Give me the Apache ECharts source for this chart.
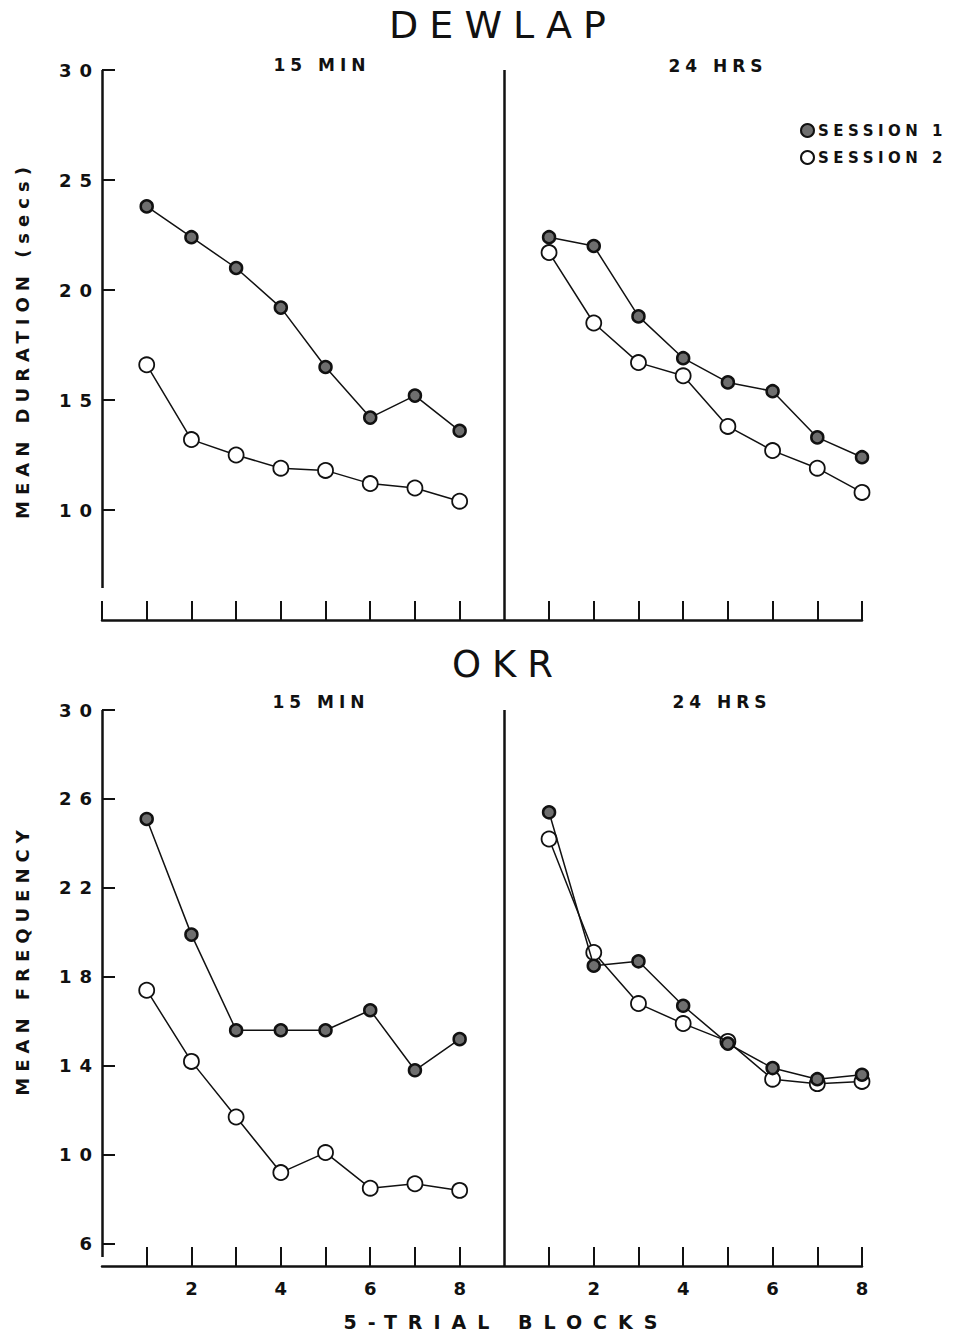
<!DOCTYPE html>
<html>
<head>
<meta charset="utf-8">
<script src="https://cdn.jsdelivr.net/npm/echarts@6/dist/echarts.min.js"></script>
<style>
  html, body { margin: 0; padding: 0; background: #fff; }
  #chart { width: 953px; height: 1337px; }
</style>
</head>
<body>
<div id="chart"></div>
<script>
// 5-trial blocks shown in each panel
const blocks = [1, 2, 3, 4, 5, 6, 7, 8];
const blockLabels = [2, 4, 6, 8];

// Dewlap: mean duration (secs)
const dewlap15Session1 = [23.8, 22.4, 21.0, 19.2, 16.5, 14.2, 15.2, 13.6];
const dewlap15Session2 = [16.6, 13.2, 12.5, 11.9, 11.8, 11.2, 11.0, 10.4];
const dewlap24Session1 = [22.4, 22.0, 18.8, 16.9, 15.8, 15.4, 13.3, 12.4];
const dewlap24Session2 = [21.7, 18.5, 16.7, 16.1, 13.8, 12.7, 11.9, 10.8];

// OKR: mean frequency
const okr15Session1 = [25.1, 19.9, 15.6, 15.6, 15.6, 16.5, 13.8, 15.2];
const okr15Session2 = [17.4, 14.2, 11.7, 9.2, 10.1, 8.5, 8.7, 8.4];
const okr24Session1 = [25.4, 18.5, 18.7, 16.7, 15.0, 13.9, 13.4, 13.6];
const okr24Session2 = [24.2, 19.1, 16.8, 15.9, 15.1, 13.4, 13.2, 13.3];

// y-axis tick labels
const dewlapTicks = [10, 15, 20, 25, 30];
const okrTicks = [6, 10, 14, 18, 22, 26, 30];

// the 24 HRS panel continues the same x scale after the divider
const RIGHT_OFFSET = 9;
const X_MAX = 17;
const INK = '#111';
const FONT = '"DejaVu Sans", sans-serif';

const chart = echarts.init(document.getElementById('chart'), null, { renderer: 'svg' });

function pairs(values, offset) {
  return values.map((v, i) => [blocks[i] + offset, v]);
}

const session1Style = {
  symbol: 'circle',
  symbolSize: 12,
  itemStyle: { color: '#6e6e6e', borderColor: INK, borderWidth: 2.5 },
  lineStyle: { color: INK, width: 1.5 }
};
const session2Style = {
  symbol: 'circle',
  symbolSize: 15,
  itemStyle: { color: '#fff', borderColor: INK, borderWidth: 1.8 },
  lineStyle: { color: INK, width: 1.5 }
};

function line(name, values, offset, gridIndex, style) {
  return Object.assign({
    name: name,
    type: 'line',
    xAxisIndex: gridIndex,
    yAxisIndex: gridIndex,
    data: pairs(values, offset),
    silent: true,
    z: name === 'SESSION 2' ? 3 : 4
  }, JSON.parse(JSON.stringify(style)));
}

// frame lines: y axis (stopping short of the x axis) and panel divider
function frame(gridIndex, yBottom, capped) {
  const solid = { color: INK, width: 2.5, type: 'solid' };
  const lines = [
    [{ coord: [0, yBottom] }, { coord: [0, 30] }],
    [{ coord: [RIGHT_OFFSET, 5] }, { coord: [RIGHT_OFFSET, 30] }]
  ];
  if (capped) lines.push([{ coord: [-0.14, yBottom] }, { coord: [0.14, yBottom] }]);
  return {
    type: 'line',
    xAxisIndex: gridIndex,
    yAxisIndex: gridIndex,
    data: [],
    silent: true,
    markLine: {
      silent: true,
      symbol: ['none', 'none'],
      label: { show: false },
      lineStyle: solid,
      data: lines
    }
  };
}

function xAxis(gridIndex, showLabels) {
  const ticks = blocks.concat(blocks.map(b => b + RIGHT_OFFSET));
  if (!showLabels) ticks.unshift(0);
  return {
    type: 'value',
    gridIndex: gridIndex,
    min: 0,
    max: X_MAX,
    axisLine: { show: true, onZero: false, lineStyle: { color: INK, width: 2.5 } },
    axisTick: { show: true, inside: true, length: 19, customValues: ticks, lineStyle: { color: INK, width: 2 } },
    axisLabel: {
      show: showLabels,
      customValues: blockLabels.concat(blockLabels.map(b => b + RIGHT_OFFSET)),
      formatter: v => String(v > RIGHT_OFFSET ? v - RIGHT_OFFSET : v),
      color: INK,
      fontFamily: FONT,
      fontWeight: 'bold',
      fontSize: 18,
      margin: 13
    },
    splitLine: { show: false }
  };
}

function yAxis(gridIndex, ticks) {
  return {
    type: 'value',
    gridIndex: gridIndex,
    min: 5,
    max: 30,
    axisLine: { show: false },
    axisTick: { show: true, inside: true, length: 13, customValues: ticks, lineStyle: { color: INK, width: 2 } },
    axisLabel: {
      customValues: ticks,
      color: INK,
      fontFamily: FONT,
      fontWeight: 'bold',
      fontSize: 18,
      margin: 2
    },
    splitLine: { show: false }
  };
}

function label(text, x, y, size, weight, rotation) {
  return {
    type: 'text',
    x: x,
    y: y,
    rotation: rotation || 0,
    silent: true,
    style: {
      text: text,
      fill: INK,
      font: weight + ' ' + size + 'px ' + FONT,
      textAlign: 'center',
      textVerticalAlign: 'middle',
      align: 'center',
      verticalAlign: 'middle'
    }
  };
}

chart.setOption({
  animation: false,
  backgroundColor: '#fff',
  grid: [
    { left: 102, right: 91, top: 70, height: 550 },
    { left: 102, right: 91, top: 710, height: 556 }
  ],
  xAxis: [xAxis(0, false), xAxis(1, true)],
  yAxis: [yAxis(0, dewlapTicks), yAxis(1, okrTicks)],
  legend: {
    data: [{ name: 'SESSION 1', icon: 'circle' }, { name: 'SESSION 2', icon: 'circle' }],
    orient: 'vertical',
    left: 795,
    top: 118,
    itemWidth: 13,
    itemHeight: 13,
    itemGap: 12,
    selectedMode: false,
    textStyle: { color: INK, fontFamily: FONT, fontWeight: 'bold', fontSize: 15, padding: [0, 0, 0, -1] }
  },
  graphic: [
    label('DEWLAP', 503, 25, 38, 'normal'),
    label('OKR', 508, 664, 37, 'normal'),
    label('15 MIN', 322, 65, 17, 'bold'),
    label('24 HRS', 718, 66, 17, 'bold'),
    label('15 MIN', 321, 702, 17, 'bold'),
    label('24 HRS', 722, 702, 17, 'bold'),
    label('MEAN DURATION (secs)', 22, 340, 18, 'bold', Math.PI / 2),
    label('MEAN FREQUENCY', 22, 960, 18, 'bold', Math.PI / 2),
    label('5-TRIAL BLOCKS', 506, 1322, 19, 'bold')
  ],
  series: [
    frame(0, 6.45, true),
    frame(1, 5.4, false),
    line('SESSION 1', dewlap15Session1, 0, 0, session1Style),
    line('SESSION 2', dewlap15Session2, 0, 0, session2Style),
    line('SESSION 1', dewlap24Session1, RIGHT_OFFSET, 0, session1Style),
    line('SESSION 2', dewlap24Session2, RIGHT_OFFSET, 0, session2Style),
    line('SESSION 1', okr15Session1, 0, 1, session1Style),
    line('SESSION 2', okr15Session2, 0, 1, session2Style),
    line('SESSION 1', okr24Session1, RIGHT_OFFSET, 1, session1Style),
    line('SESSION 2', okr24Session2, RIGHT_OFFSET, 1, session2Style)
  ]
});

// typewriter-style letter spacing for the lettering
const spacing = {
  'DEWLAP': 11, 'OKR': 11,
  '15 MIN': 5, '24 HRS': 5,
  'SESSION 1': 4.5, 'SESSION 2': 4.5,
  'MEAN DURATION (secs)': 6, 'MEAN FREQUENCY': 6,
  '5-TRIAL BLOCKS': 11
};
function spaceLetters() {
  chart.getDom().querySelectorAll('text').forEach(t => {
    const s = t.textContent.trim();
    let px = spacing[s];
    // right-aligned y-axis numbers get the same spacing (also trailing)
    if (px === undefined && /^\d+$/.test(s) && t.getAttribute('text-anchor') === 'end') px = 8;
    if (px) t.style.letterSpacing = px + 'px';
  });
}
spaceLetters();
chart.on('finished', spaceLetters);
</script>
</body>
</html>
